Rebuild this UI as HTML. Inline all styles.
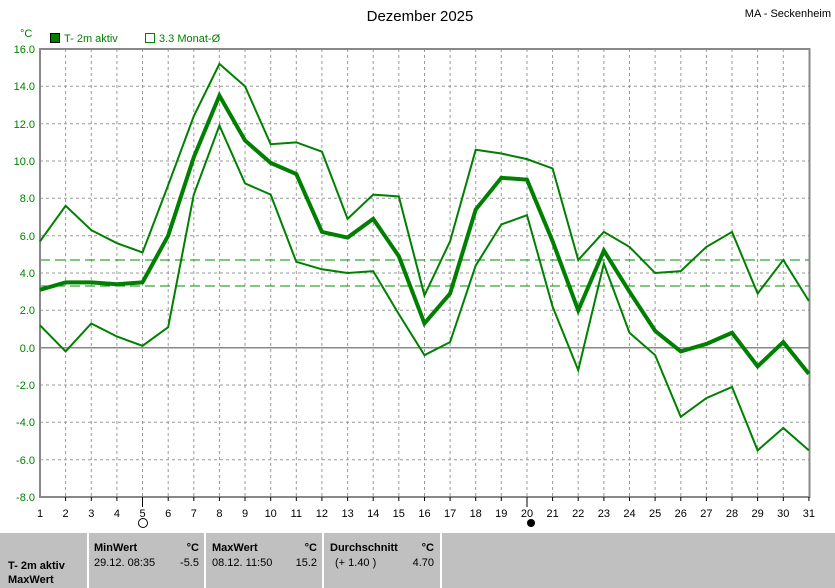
<!DOCTYPE html>
<html><head><meta charset="utf-8"><style>
body{margin:0;width:835px;height:588px;background:#fff;overflow:hidden;font-family:"Liberation Sans",sans-serif;}
svg{position:absolute;left:0;top:0}
</style></head><body>
<svg width="835" height="588" xmlns="http://www.w3.org/2000/svg" font-family="Liberation Sans, sans-serif">
<text x="420" y="21" font-size="15" text-anchor="middle" fill="#000">Dezember 2025</text>
<text x="831" y="17" font-size="11" text-anchor="end" fill="#000">MA - Seckenheim</text>
<text x="20" y="37" font-size="11" fill="#008000">°C</text>
<rect x="50.5" y="33.5" width="9" height="9" fill="#008000" stroke="#000"/>
<text x="64" y="42" font-size="11" fill="#008000">T- 2m aktiv</text>
<rect x="145.5" y="33.5" width="9" height="9" fill="none" stroke="#008000"/>
<text x="159" y="42" font-size="11" fill="#008000">3.3 Monat-Ø</text>
<g stroke="#999" stroke-dasharray="3,3" stroke-width="1">
<path d="M65.6 49V497M91.3 49V497M116.9 49V497M142.5 49V497M168.2 49V497M193.8 49V497M219.4 49V497M245 49V497M270.7 49V497M296.3 49V497M321.9 49V497M347.6 49V497M373.2 49V497M398.8 49V497M424.5 49V497M450.1 49V497M475.7 49V497M501.3 49V497M527 49V497M552.6 49V497M578.2 49V497M603.9 49V497M629.5 49V497M655.1 49V497M680.8 49V497M706.4 49V497M732 49V497M757.6 49V497M783.3 49V497"/>
<path d="M40 86.3H809M40 123.7H809M40 161H809M40 198.3H809M40 235.7H809M40 273H809M40 310.3H809M40 385H809M40 422.3H809M40 459.7H809"/>
</g>
<path d="M40 347.7H809" stroke="#888" stroke-width="1.5"/>
<g stroke="#009000" stroke-dasharray="10,5" stroke-width="1"><path d="M40 260H809M40 286H809"/></g>
<rect x="40" y="49" width="769.5" height="448" fill="none" stroke="#888" stroke-width="2"/>
<g fill="#008000" font-size="11" text-anchor="end">
<text x="35" y="53">16.0</text><text x="35" y="90">14.0</text><text x="35" y="128">12.0</text><text x="35" y="165">10.0</text><text x="35" y="202">8.0</text><text x="35" y="240">6.0</text><text x="35" y="277">4.0</text><text x="35" y="314">2.0</text><text x="35" y="352">0.0</text><text x="35" y="389">-2.0</text><text x="35" y="426">-4.0</text><text x="35" y="464">-6.0</text><text x="35" y="501">-8.0</text>
</g>
<g stroke="#000" stroke-width="1"><path d="M65.6 497v4M91.3 497v4M116.9 497v4M142.5 497v10M168.2 497v4M193.8 497v4M219.4 497v4M245 497v4M270.7 497v4M296.3 497v4M321.9 497v4M347.6 497v4M373.2 497v4M398.8 497v4M424.5 497v4M450.1 497v4M475.7 497v4M501.3 497v4M527 497v10M552.6 497v4M578.2 497v4M603.9 497v4M629.5 497v4M655.1 497v4M680.8 497v4M706.4 497v4M732 497v4M757.6 497v4M783.3 497v4M808.9 497v4"/></g>
<g font-size="11" fill="#000" text-anchor="middle">
<text x="40" y="517">1</text><text x="65.6" y="517">2</text><text x="91.3" y="517">3</text><text x="116.9" y="517">4</text><text x="142.5" y="517">5</text><text x="168.2" y="517">6</text><text x="193.8" y="517">7</text><text x="219.4" y="517">8</text><text x="245" y="517">9</text><text x="270.7" y="517">10</text><text x="296.3" y="517">11</text><text x="321.9" y="517">12</text><text x="347.6" y="517">13</text><text x="373.2" y="517">14</text><text x="398.8" y="517">15</text><text x="424.5" y="517">16</text><text x="450.1" y="517">17</text><text x="475.7" y="517">18</text><text x="501.3" y="517">19</text><text x="527" y="517">20</text><text x="552.6" y="517">21</text><text x="578.2" y="517">22</text><text x="603.9" y="517">23</text><text x="629.5" y="517">24</text><text x="655.1" y="517">25</text><text x="680.8" y="517">26</text><text x="706.4" y="517">27</text><text x="732" y="517">28</text><text x="757.6" y="517">29</text><text x="783.3" y="517">30</text><text x="808.9" y="517">31</text>
</g>
<circle cx="143" cy="523" r="4.5" fill="#fff" stroke="#000"/>
<circle cx="531" cy="523" r="4" fill="#000"/>
<g transform="translate(40,347.7) scale(25.63,-18.67)" fill="none" stroke="#008000">
<polyline vector-effect="non-scaling-stroke" stroke-width="2" points="0,5.7 1,7.6 2,6.3 3,5.6 4,5.1 5,8.7 6,12.4 7,15.2 8,14.0 9,10.9 10,11.0 11,10.5 12,6.9 13,8.2 14,8.1 15,2.8 16,5.7 17,10.6 18,10.4 19,10.1 20,9.6 21,4.7 22,6.2 23,5.4 24,4.0 25,4.1 26,5.4 27,6.2 28,2.9 29,4.7 30,2.5"/>
<polyline vector-effect="non-scaling-stroke" stroke-width="2" points="0,1.2 1,-0.2 2,1.3 3,0.6 4,0.1 5,1.1 6,8.2 7,11.9 8,8.8 9,8.2 10,4.6 11,4.2 12,4.0 13,4.1 14,1.8 15,-0.4 16,0.3 17,4.4 18,6.6 19,7.1 20,2.2 21,-1.2 22,4.5 23,0.8 24,-0.4 25,-3.7 26,-2.7 27,-2.1 28,-5.5 29,-4.3 30,-5.5"/>
<polyline vector-effect="non-scaling-stroke" stroke-width="4" points="0,3.1 1,3.5 2,3.5 3,3.4 4,3.5 5,6.0 6,10.2 7,13.5 8,11.1 9,9.9 10,9.3 11,6.2 12,5.9 13,6.9 14,4.9 15,1.3 16,2.9 17,7.4 18,9.1 19,9.0 20,5.7 21,2.0 22,5.2 23,3.0 24,0.9 25,-0.2 26,0.2 27,0.8 28,-1.0 29,0.3 30,-1.4"/>
</g>
<rect x="0" y="533" width="835" height="55" fill="#c0c0c0"/>
<g stroke="#fff" stroke-width="2"><path d="M88 533V588M205 533V588M323 533V588M441 533V588"/></g>
<g font-size="11" fill="#000">
<text x="8" y="569" font-weight="bold">T- 2m aktiv</text>
<text x="8" y="583" font-weight="bold">MaxWert</text>
<text x="94" y="551" font-weight="bold">MinWert</text><text x="199" y="551" text-anchor="end" font-weight="bold">°C</text>
<text x="94" y="566">29.12.  08:35</text><text x="199" y="566" text-anchor="end">-5.5</text>
<text x="212" y="551" font-weight="bold">MaxWert</text><text x="317" y="551" text-anchor="end" font-weight="bold">°C</text>
<text x="212" y="566">08.12.  11:50</text><text x="317" y="566" text-anchor="end">15.2</text>
<text x="330" y="551" font-weight="bold">Durchschnitt</text><text x="434" y="551" text-anchor="end" font-weight="bold">°C</text>
<text x="335" y="566">(+ 1.40 )</text><text x="434" y="566" text-anchor="end">4.70</text>
</g>
</svg>
</body></html>
